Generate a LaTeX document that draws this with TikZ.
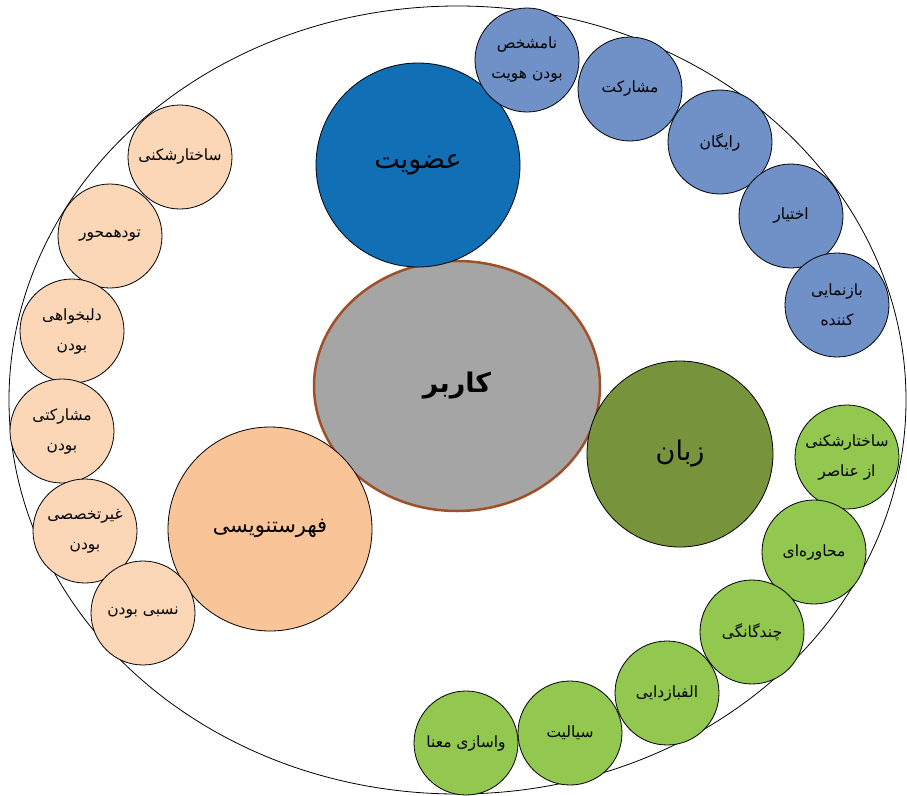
\documentclass[tikz,border=0pt]{standalone}
\usepackage{fontspec}
\usetikzlibrary{shapes.geometric}
\TeXXeTstate=1
\newfontfamily\arabicfont[Script=Arabic]{DejaVu Sans}
\definecolor{bigblue}{RGB}{17,111,182}
\definecolor{smallblue}{RGB}{111,145,200}
\definecolor{olive}{RGB}{119,147,60}
\definecolor{lgreen}{RGB}{146,200,80}
\definecolor{peach}{RGB}{249,196,151}
\definecolor{lpeach}{RGB}{251,214,183}
\definecolor{usergray}{RGB}{165,165,165}
\definecolor{brownedge}{RGB}{160,80,40}
\newcommand{\fa}[1]{\beginR #1\endR}
\tikzset{
  small/.style={circle, draw=black, line width=0.8pt, minimum size=104pt, inner sep=0pt, align=center,
    font=\arabicfont\fontsize{15.5}{30}\selectfont},
  big/.style={circle, draw=black, line width=0.8pt, inner sep=0pt, align=center,
    font=\arabicfont\fontsize{27}{30}\selectfont},
}
\begin{document}
\begin{tikzpicture}[x=1pt,y=-1pt]
\useasboundingbox (0,0) rectangle (907,795);
\draw[line width=0.8pt] (457.5,400) ellipse [x radius=448.5, y radius=394];

% centre
\node[ellipse, minimum width=286pt, minimum height=250pt, inner sep=0pt, fill=usergray, draw=brownedge, line width=2.5pt,
  font=\arabicfont\bfseries\fontsize{27}{30}\selectfont] (user) at (457,386) {\fa{کاربر}};
\node[big, minimum size=204pt, fill=bigblue] (member) at (418,165) {\fa{عضویت}};
\node[big, minimum size=186pt, fill=olive] (lang) at (680,454) {\fa{زبان}};
\node[big, minimum size=204pt, fill=peach, font=\arabicfont\fontsize{21}{26}\selectfont] (cat) at (270,529) {\raisebox{7pt}{\fa{فهرستنویسی}}};

% blue
\node[small, fill=smallblue] (b1) at (527,60) {\fa{نامشخص}\\\fa{بودن هویت}};
\node[small, fill=smallblue] (b2) at (630,89) {\fa{مشارکت}};
\node[small, fill=smallblue] (b3) at (720,142) {\fa{رایگان}};
\node[small, fill=smallblue] (b4) at (791,216) {\fa{اختیار}};
\node[small, fill=smallblue] (b5) at (837,305) {\fa{بازنمایی}\\\fa{کننده}};

% peach
\node[small, fill=lpeach] (p1) at (180,157) {\fa{ساختارشکنی}};
\node[small, fill=lpeach] (p2) at (110,236) {\fa{تودهمحور}};
\node[small, fill=lpeach] (p3) at (72,331) {\fa{دلبخواهی}\\\fa{بودن}};
\node[small, fill=lpeach] (p4) at (62,431) {\fa{مشارکتی}\\\fa{بودن}};
\node[small, fill=lpeach] (p5) at (85,531) {\fa{غیرتخصصی}\\\fa{بودن}};
\node[small, fill=lpeach] (p6) at (143,613) {\fa{نسبی بودن}};

% green
\node[small, fill=lgreen] (g1) at (847,457) {\fa{ساختارشکنی}\\\fa{از عناصر}};
\node[small, fill=lgreen] (g2) at (814,552) {\fa{محاوره‌ای}};
\node[small, fill=lgreen] (g3) at (752,632) {\fa{چندگانگی}};
\node[small, fill=lgreen] (g4) at (667,693) {\fa{الفبازدایی}};
\node[small, fill=lgreen] (g5) at (570,733) {\fa{سیالیت}};
\node[small, fill=lgreen] (g6) at (466,743) {\fa{واسازی معنا}};
\end{tikzpicture}
\end{document}
